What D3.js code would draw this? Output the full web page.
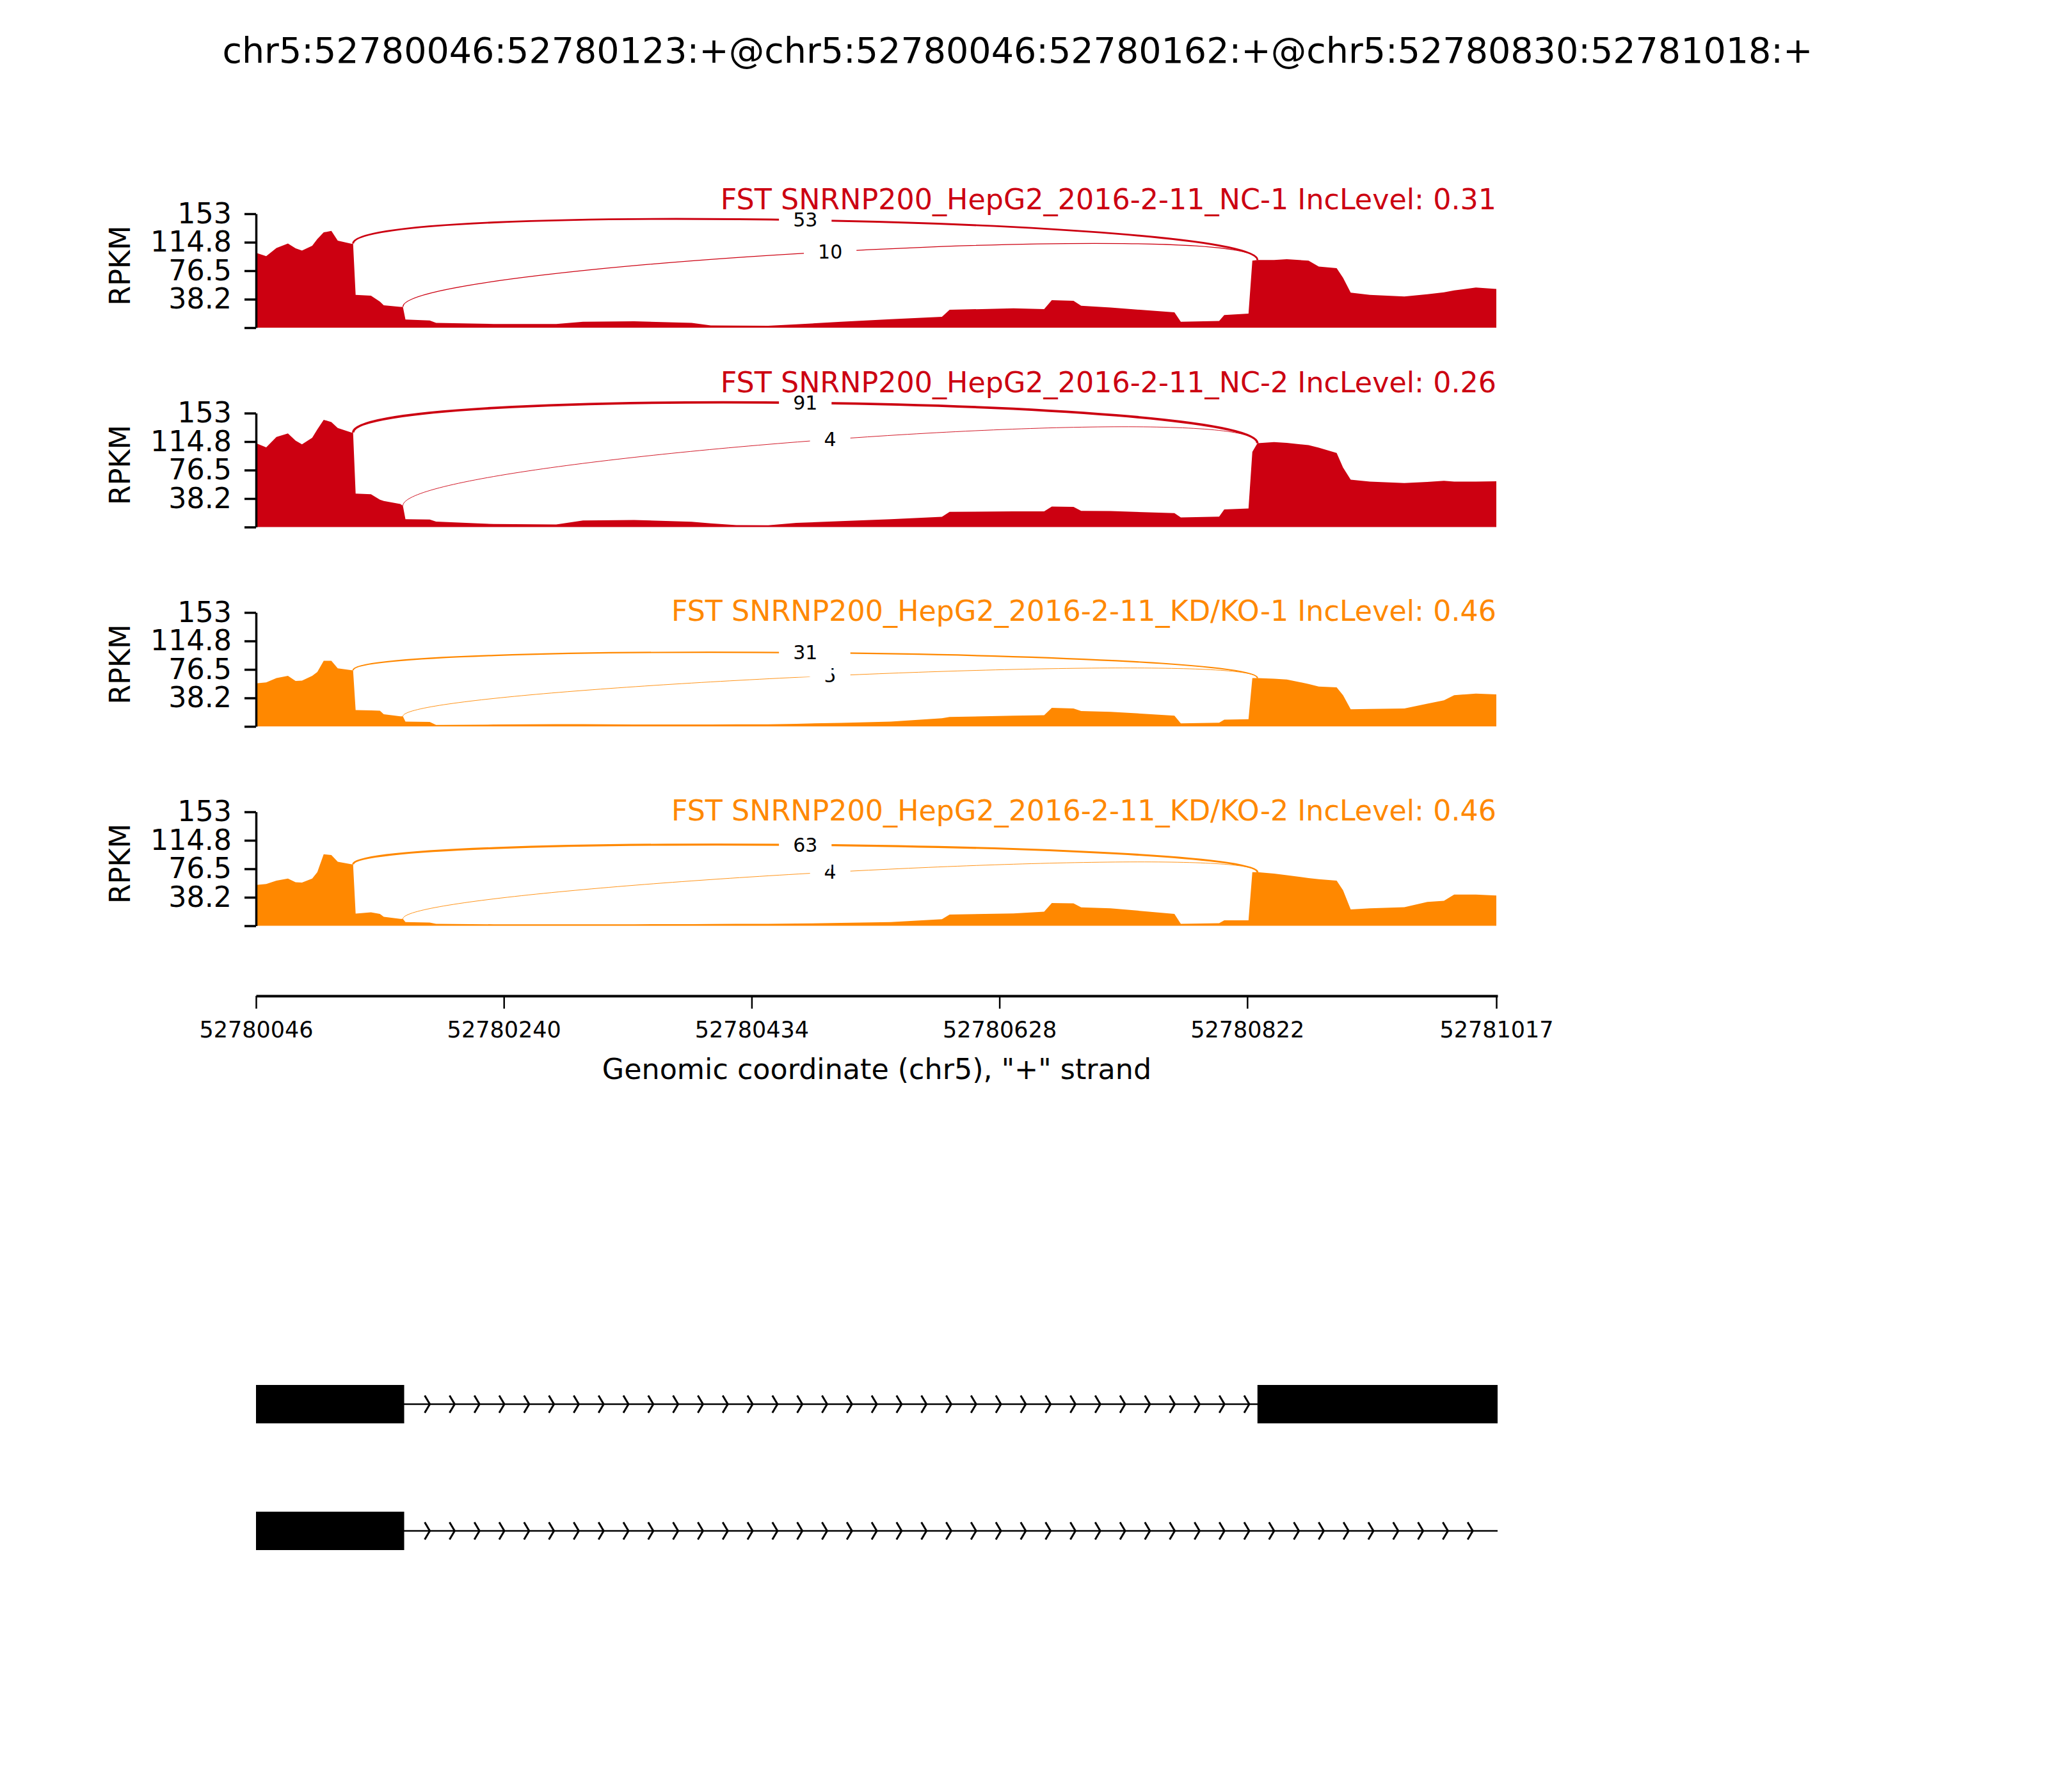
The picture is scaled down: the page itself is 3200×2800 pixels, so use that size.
<!DOCTYPE html>
<html>
<head>
<meta charset="utf-8">
<title>Sashimi plot chr5:52780046-52781018</title>
<style>
  body { margin: 0; background: #fff; }
  svg { display: block; font-family: "DejaVu Sans", sans-serif; }
</style>
</head>
<body>
<svg id="chart"></svg>
<script src="https://d3js.org/d3.v7.min.js"></script>
<script>
// ---- data ----
const title = "chr5:52780046:52780123:+@chr5:52780046:52780162:+@chr5:52780830:52781018:+";
const sampleNames = [
  "FST SNRNP200_HepG2_2016-2-11_NC-1",
  "FST SNRNP200_HepG2_2016-2-11_NC-2",
  "FST SNRNP200_HepG2_2016-2-11_KD/KO-1",
  "FST SNRNP200_HepG2_2016-2-11_KD/KO-2"
];
const incLevels = ["0.31", "0.26", "0.46", "0.46"];
const sampleGroup = ["NC", "NC", "KD", "KD"];
const groupColor = { NC: "#CC0011", KD: "#FF8800" };

// genomic positions of the coverage samples (chr5)
const covPos = [
  52780046, 52780054, 52780062, 52780071, 52780077, 52780082, 52780090, 52780094, 52780099, 52780105,
  52780110, 52780121, 52780122, 52780124, 52780136, 52780143, 52780146, 52780159, 52780161, 52780163,
  52780182, 52780187, 52780232, 52780281, 52780302, 52780342, 52780387, 52780402, 52780422, 52780447,
  52780469, 52780504, 52780543, 52780583, 52780589, 52780639, 52780663, 52780669, 52780686, 52780692,
  52780715, 52780765, 52780770, 52780800, 52780804, 52780823, 52780826, 52780830, 52780843, 52780853,
  52780870, 52780878, 52780892, 52780897, 52780903, 52780918, 52780945, 52780963, 52780976, 52780984,
  52781001, 52781017
];
// RPKM at those positions, one list per sample
const covNC1 = [
  100.6, 96, 107, 113, 106.6, 103.5, 110, 119, 128, 130,
  117, 112.5, 113, 44, 43, 35, 30, 28, 28, 11,
  9.7, 6.4, 5, 5, 8, 8.5, 6.5, 3, 2.7, 2.6,
  4.5, 8, 11.4, 14.6, 24, 26, 25, 37, 36, 29.5,
  27, 20.6, 8, 9, 17, 19, 90, 91, 91, 92,
  90, 82, 80, 67, 47, 44, 42, 45, 47.5, 50,
  54, 52
];
const covNC2 = [
  112.6, 107, 121, 125.7, 116, 111, 120, 131, 144, 141,
  133, 126.7, 127, 45, 44, 36.8, 35, 31, 28.6, 10.5,
  10, 7.4, 4, 3.5, 8.8, 9.5, 7, 5, 2.5, 2.4,
  5.6, 8, 10.5, 13.8, 20.5, 21, 21, 27.6, 27, 21.8,
  21.5, 18.7, 13, 14, 23.6, 25, 101, 112.6, 114, 113,
  110, 106.6, 99.5, 80, 63.5, 61, 59, 60.5, 62, 61,
  61, 61.5
];
const covKD1 = [
  57.7, 59, 65, 67.8, 61, 61.5, 67.8, 73, 88, 88,
  78, 75.4, 75.5, 22, 21.5, 21, 16.4, 13.5, 13.5, 6.5,
  6, 2, 2.5, 3, 3, 2.5, 2.5, 2.5, 2.7, 2.7,
  3.5, 4.8, 6.4, 11, 12.6, 14.5, 15, 25, 24, 20.6,
  19.6, 14.5, 4, 5, 9, 9.6, 65, 65, 64, 63,
  57, 53.5, 52.5, 42, 23, 23.5, 24, 30.6, 35, 42,
  44, 43
];
const covKD2 = [
  54.8, 56, 60.6, 63.4, 58.5, 58, 63.4, 72, 96, 95,
  86, 82.5, 82.5, 16.3, 18, 16, 12, 9.2, 9.2, 5,
  4.3, 2.5, 2, 2, 2, 2, 2.2, 2.3, 2.5, 2.5,
  3, 3.8, 5, 8.9, 15, 16.5, 19, 30.5, 30, 24.8,
  23.5, 16, 2.6, 3.4, 7.3, 7.3, 72, 72, 70, 68,
  64, 62.5, 60.6, 47.7, 22, 23.5, 25, 32, 33.6, 42,
  42, 40.7
];
const coverage = [covNC1, covNC2, covKD1, covKD2];

// splice junctions (donor, acceptor) and read counts per sample
const junctions = [[52780162, 52780830], [52780123, 52780830]];
const jxnNC1 = [10, 53];
const jxnNC2 = [4, 91];
const jxnKD1 = [5, 31];
const jxnKD2 = [4, 63];
const jxnCounts = [jxnNC1, jxnNC2, jxnKD1, jxnKD2];

const xTicks = [52780046, 52780240, 52780434, 52780628, 52780822, 52781017];
const yTicks = [0, 38.25, 76.5, 114.75, 153];
const yTickLabels = ["", "38.2", "76.5", "114.8", "153"];
const xLabel = 'Genomic coordinate (chr5), "+" strand';

const isoExons = [
  [[52780046, 52780123], [52780046, 52780162], [52780830, 52781018]],
  [[52780046, 52780123], [52780046, 52780162]]
];
const isoSpan = [[52780046, 52781018], [52780046, 52781018]];

// ---- layout ----
const width = 3200, height = 2800;
const panelTop0 = 334, panelStep = 311.5, panelH = 178;
const xAxisY = 1556;
const geneY = [2194, 2392], exonH = 60;
const fs = 44.4;

const svg = d3.select("#chart").attr("width", width).attr("height", height);
svg.append("rect").attr("width", width).attr("height", height).attr("fill", "#fff");

const x = d3.scaleLinear().domain([52780046, 52781018]).range([400, 2340]);

svg.append("text")
  .attr("x", 1590).attr("y", 98)
  .attr("text-anchor", "middle")
  .attr("font-size", 55.5)
  .text(title);

coverage.forEach((vals, s) => {
  const top = panelTop0 + s * panelStep;
  const color = groupColor[sampleGroup[s]];
  const y = d3.scaleLinear().domain([0, 153]).range([top + panelH, top]);
  const cov = d3.scaleLinear().domain(covPos).range(vals);
  const g = svg.append("g");

  const area = d3.area()
    .x((d, i) => x(covPos[i]))
    .y0(y(0))
    .y1(d => y(d));
  g.append("path").datum(vals).attr("d", area).attr("fill", color);

  // junction arcs as cubic beziers lifted by h
  const h = 0.435 * d3.max(vals);
  const labels = [];
  junctions.forEach(([a, b], j) => {
    const x1 = x(a - 1), x2 = x(b);
    const l = cov(a - 1), r = cov(b);
    const n = jxnCounts[s][j];
    g.append("path")
      .attr("d", `M${x1},${y(l)} C${x1},${y(l + h)} ${x2},${y(r + h)} ${x2},${y(r)}`)
      .attr("fill", "none")
      .attr("stroke", color)
      .attr("stroke-width", Math.max(0.9, 0.4 * Math.sqrt(n)));
    labels.push({ x: (x1 + x2) / 2, v: (l + r) / 2 + 0.75 * h, n: n });
  });

  labels.forEach(lb => {
    const lg = g.append("g");
    const t = lg.append("text")
      .attr("x", lb.x).attr("y", y(lb.v))
      .attr("text-anchor", "middle")
      .attr("dominant-baseline", "central")
      .attr("font-size", 30)
      .text(lb.n);
    const bb = t.node().getBBox();
    lg.insert("rect", "text")
      .attr("x", bb.x - 22).attr("y", bb.y - 20)
      .attr("width", bb.width + 44).attr("height", bb.height + 40)
      .attr("fill", "#fff");
  });

  const peak = d3.max(labels, d => d.v);
  g.append("text")
    .attr("x", 2338)
    .attr("y", y(Math.max(0.925 * 153, peak + 14.5)))
    .attr("text-anchor", "end")
    .attr("font-size", fs)
    .attr("fill", color)
    .text(`${sampleNames[s]} IncLevel: ${incLevels[s]}`);

  const ax = g.append("g")
    .attr("transform", "translate(400,0)")
    .call(d3.axisLeft(y).tickValues(yTicks)
      .tickFormat((d, i) => yTickLabels[i])
      .tickSize(18).tickSizeOuter(0).tickPadding(20));
  ax.attr("font-family", null).attr("font-size", null);
  ax.select(".domain").attr("stroke", "#000").attr("stroke-width", 3.5);
  ax.selectAll(".tick line").attr("stroke", "#000").attr("stroke-width", 3.5);
  ax.selectAll(".tick text").attr("font-size", fs).attr("fill", "#000");

  g.append("text")
    .attr("transform", `translate(203,${top + 81}) rotate(-90)`)
    .attr("text-anchor", "middle")
    .attr("font-size", fs)
    .text("RPKM");
});

// genomic x axis
const xa = svg.append("g")
  .attr("transform", `translate(0,${xAxisY})`)
  .call(d3.axisBottom(x).tickValues(xTicks).tickFormat(d3.format("d"))
    .tickSize(20).tickSizeOuter(0).tickPadding(20));
xa.attr("font-family", null).attr("font-size", null);
xa.select(".domain").attr("stroke", "#000").attr("stroke-width", 4);
xa.selectAll(".tick line").attr("stroke", "#000").attr("stroke-width", 2.5);
xa.selectAll(".tick text").attr("font-size", 35).attr("fill", "#000");

svg.append("text")
  .attr("x", 1370).attr("y", 1686)
  .attr("text-anchor", "middle")
  .attr("font-size", fs)
  .text(xLabel);

// gene models
const [r0, r1] = x.range();
const chevStep = (r1 - r0) / 50;
isoExons.forEach((exons, i) => {
  const cy = geneY[i];
  const g = svg.append("g");
  g.append("line")
    .attr("x1", x(isoSpan[i][0])).attr("x2", x(isoSpan[i][1]))
    .attr("y1", cy).attr("y2", cy)
    .attr("stroke", "#000").attr("stroke-width", 2.5);

  // introns = gaps between merged exon blocks, up to the span end
  const sorted = exons.slice().sort((a, b) => a[0] - b[0]);
  const blocks = [];
  sorted.forEach(e => {
    const last = blocks[blocks.length - 1];
    if (last && e[0] <= last[1]) last[1] = Math.max(last[1], e[1]);
    else blocks.push(e.slice());
  });
  const gaps = [];
  blocks.forEach((b, k) => {
    const next = k + 1 < blocks.length ? blocks[k + 1][0] : isoSpan[i][1];
    if (next > b[1]) gaps.push([b[1], next]);
  });

  d3.range(50).forEach(k => {
    const tx = r0 + k * chevStep;
    const inGap = gaps.some(([a, b]) => tx - 8 > x(a) && tx < x(b));
    if (!inGap) return;
    g.append("path")
      .attr("d", `M${tx - 8},${cy - 13.5} L${tx},${cy} L${tx - 8},${cy + 13.5}`)
      .attr("fill", "none")
      .attr("stroke", "#000")
      .attr("stroke-width", 3);
  });

  exons.forEach(([s, e]) => {
    g.append("rect")
      .attr("x", x(s)).attr("y", cy - exonH / 2)
      .attr("width", x(e) - x(s)).attr("height", exonH)
      .attr("fill", "#000");
  });
});
</script>
</body>
</html>
